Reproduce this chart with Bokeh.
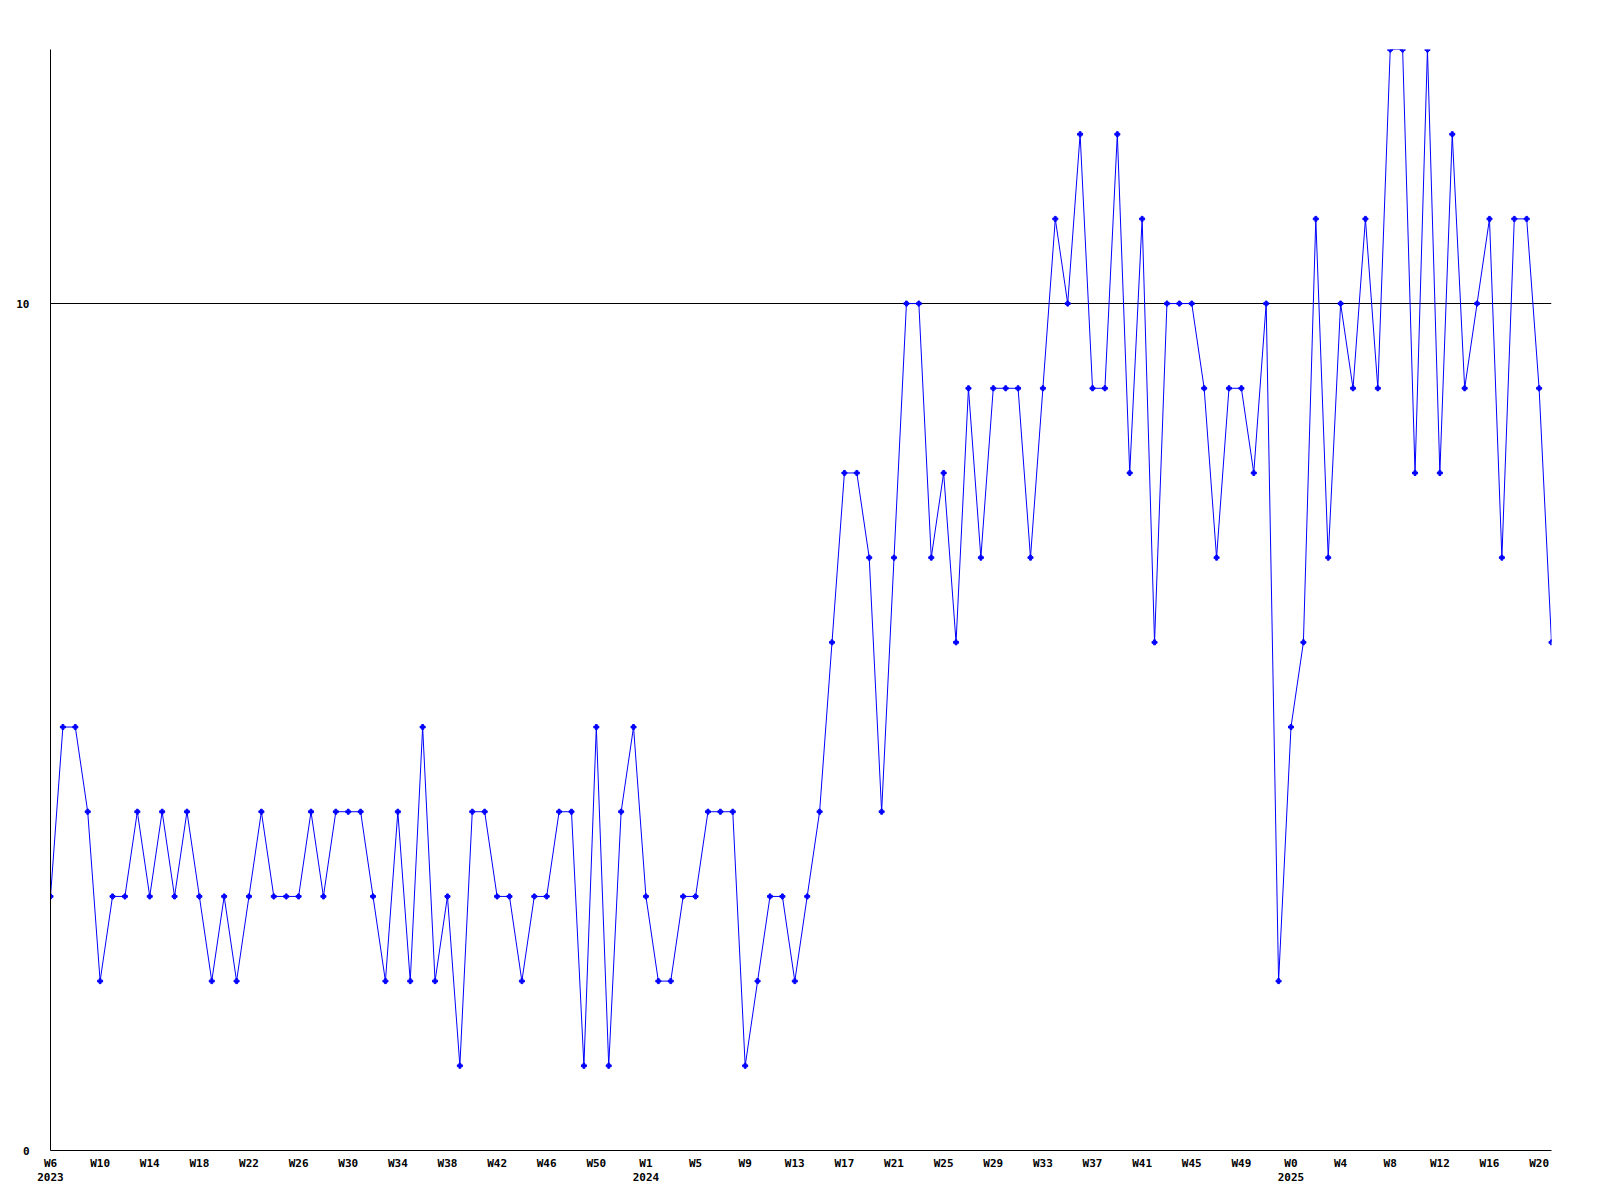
from bokeh.plotting import figure
from bokeh.models import FixedTicker, Range1d
from bokeh.embed import file_html
from bokeh.resources import INLINE

# Weekly series: 2023 W6 .. 2025 W21
years = [2023, 2024, 2025]
first_week = [6, 1, 0]
last_week = [53, 52, 21]

values = [
    3, 5, 5, 4, 2, 3, 3, 4, 3, 4, 3, 4, 3, 2, 3, 2, 3, 4, 3, 3, 3, 4, 3, 4, 4, 4, 3, 2, 4, 2, 5, 2, 3, 1,
    4, 4, 3, 3, 2, 3, 3, 4, 4, 1, 5, 1, 4, 5, 3, 2, 2, 3, 3, 4, 4, 4, 1, 2, 3, 3, 2, 3, 4,
    6, 8, 8, 7, 4, 7, 10, 10, 7, 8, 6, 9, 7, 9, 9, 9, 7, 9, 11, 10, 12, 9, 9, 12, 8, 11, 6, 10, 10, 10, 9, 7, 9, 9,
    8, 10, 2, 5, 6, 11, 7, 10, 9, 11, 9, 13, 13, 8, 13, 8, 12, 9, 10, 11, 7, 11, 11, 9, 6,
]

y_ticks = [0, 10]
y_max = 13
tick_step = 4

week_year = []
week_num = []
for yr, a, b in zip(years, first_week, last_week):
    for w in range(a, b + 1):
        week_year.append(yr)
        week_num.append(w)

x = list(range(len(values)))

x_ticks = list(range(0, len(values), tick_step))
overrides = {}
prev_year = None
for i in x_ticks:
    lab = f"W{week_num[i]}"
    if week_year[i] != prev_year:
        lab += f"\n{week_year[i]}"
    prev_year = week_year[i]
    overrides[i] = lab

p = figure(width=1592, height=1192, output_backend="svg", toolbar_location=None,
           x_range=Range1d(0, len(values) - 1), y_range=Range1d(0, y_max),
           min_border_left=50, min_border_right=41, min_border_top=49, min_border_bottom=42)
p.outline_line_color = None
p.background_fill_color = "white"
p.border_fill_color = "white"

p.line(x, values, line_color="#0000ff", line_width=1)
p.scatter(x, values, marker="plus", size=5, fill_color="#0000ff", line_color="#0000ff")

p.xgrid.visible = False
p.ygrid.ticker = FixedTicker(ticks=y_ticks)
p.ygrid.grid_line_color = "black"
p.ygrid.grid_line_alpha = 1.0
p.ygrid.grid_line_width = 1

for ax in (p.xaxis[0], p.yaxis[0]):
    ax.axis_line_color = "black"
    ax.axis_line_width = 1
    ax.major_tick_line_color = None
    ax.minor_tick_line_color = None
    ax.major_label_text_font = "DejaVu Sans Mono"
    ax.major_label_text_font_style = "bold"
    ax.major_label_text_font_size = "11px"
    ax.major_label_text_color = "black"

p.xaxis[0].ticker = FixedTicker(ticks=x_ticks)
p.xaxis[0].major_label_overrides = overrides
p.xaxis[0].major_label_standoff = 0
p.xaxis[0].major_label_text_line_height = 1.1

p.yaxis[0].ticker = FixedTicker(ticks=y_ticks)
p.yaxis[0].major_label_standoff = 15

open("out.html", "w").write(file_html(p, INLINE))
